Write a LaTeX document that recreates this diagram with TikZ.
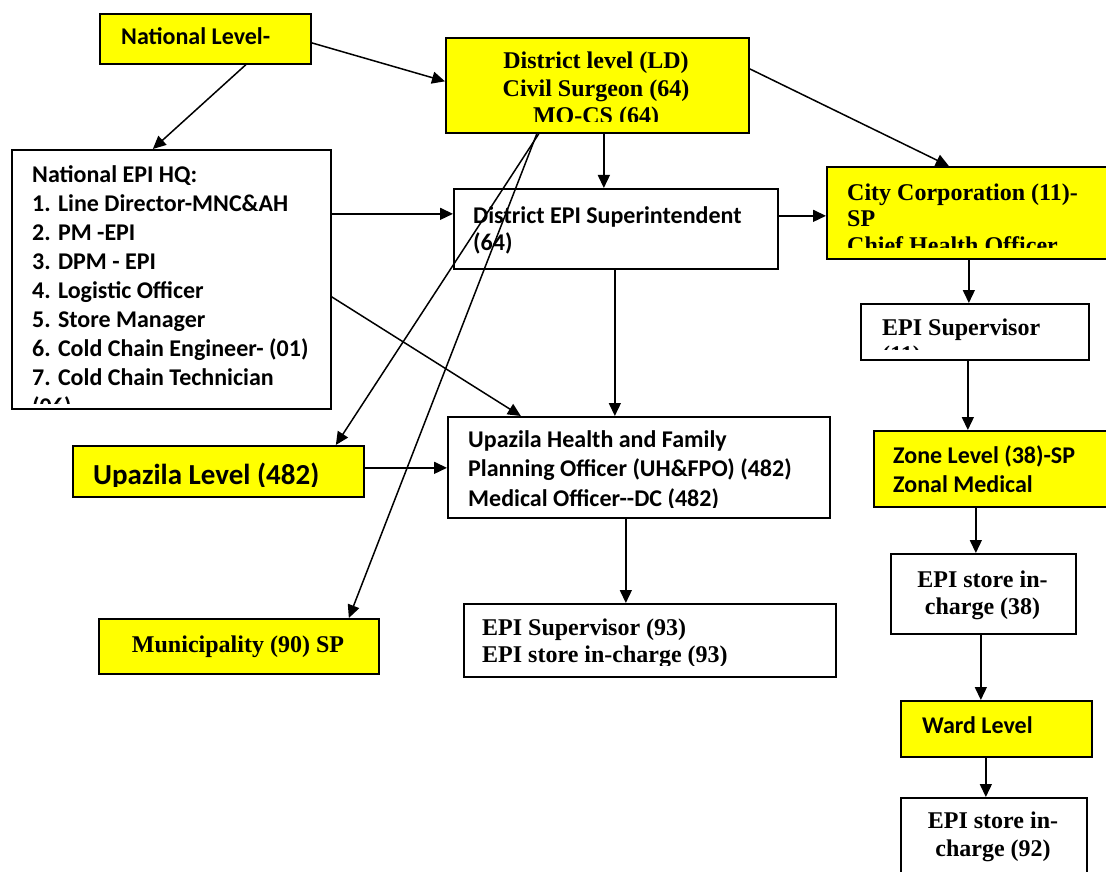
\documentclass[tikz,border=0pt]{standalone}
\usepackage{fontspec}
\setmainfont{Liberation Serif}
\newfontfamily\calfam{Carlito}
\usetikzlibrary{arrows.meta}
\definecolor{boxyellow}{RGB}{255,255,0}
\tikzset{
  bx/.style={draw=black, line width=1.7pt, fill=white, anchor=north west, inner sep=0pt},
  ybx/.style={bx, fill=boxyellow},
  arr/.style={line width=1.5pt, -{Triangle[length=13pt,width=12pt]}},
  ctext/.style={font=\calfam\bfseries\fontsize{24}{#1}\selectfont, inner sep=0pt, anchor=base west, align=left},
  ctext/.default=29.3,
  ttext/.style={font=\bfseries\fontsize{24}{#1}\selectfont, inner sep=0pt, anchor=base, align=center},
  ttext/.default=27,
  tltext/.style={font=\bfseries\fontsize{24}{#1}\selectfont, inner sep=0pt, anchor=base west, align=left},
  tltext/.default=27
}
\begin{document}
\begin{tikzpicture}[x=1pt,y=-1pt]
\useasboundingbox (0,0) rectangle (1106,872);
\clip (0,0) rectangle (1106,872);
\fill[white] (0,0) rectangle (1106,872);

% boxes
\node[ybx, minimum width=211pt, minimum height=50pt] (natl) at (99,13) {};
\node[ybx, minimum width=303pt, minimum height=95pt] (dist) at (445,37) {};
\node[bx, minimum width=319pt, minimum height=259pt] (hq) at (11,149) {};
\node[bx, minimum width=324pt, minimum height=80pt] (desup) at (453,188) {};
\node[ybx, minimum width=300pt, minimum height=92pt] (city) at (826,166) {};
\node[bx, minimum width=228pt, minimum height=56pt] (sup11) at (860,303) {};
\node[bx, minimum width=382pt, minimum height=101pt] (uhfpo) at (447,416) {};
\node[ybx, minimum width=291pt, minimum height=51pt] (upz) at (72,445) {};
\node[ybx, minimum width=250pt, minimum height=76pt] (zone) at (873,430) {};
\node[bx, minimum width=185pt, minimum height=80pt] (st38) at (890,553) {};
\node[bx, minimum width=372pt, minimum height=73pt] (sup93) at (463,603) {};
\node[ybx, minimum width=280pt, minimum height=55pt] (muni) at (98,618) {};
\node[ybx, minimum width=191pt, minimum height=56pt] (ward) at (900,700) {};
\node[bx, minimum width=186pt, minimum height=90pt] (st92) at (900,797) {};

% texts (anchor = baseline of the last line)
\node[ctext] (tnatl) at (121,45) {National Level-};
\begin{scope}
  \clip (445,37) rectangle (748,121.5);
  \node[ttext=27.5] (tdist) at (596,124) {District level (LD)\\Civil Surgeon (64)\\MO-CS (64)};
\end{scope}
\begin{scope}
  \clip (11,149) rectangle (330,403);
  \node[ctext=29] (thq) at (32,414.5) {National EPI HQ:\\1. Line Director-MNC\&AH\\2. PM -EPI\\3. DPM - EPI\\4. Logistic Officer\\5. Store Manager\\6. Cold Chain Engineer- (01)\\7. Cold Chain Technician\\(06)};
\end{scope}
\node[ctext=27.5] (tdesup) at (473,250.5) {District EPI Superintendent\\(64)};
\begin{scope}
  \clip (826,166) rectangle (1106,247);
  \node[tltext=26.5] (tcity) at (847,253) {City Corporation (11)-\\SP\\Chief Health Officer};
\end{scope}
\begin{scope}
  \clip (860,303) rectangle (1088,349);
  \node[tltext=27] (tsup11) at (882,362) {EPI Supervisor\\(11)};
\end{scope}
\begin{scope}
  \clip (447,416) rectangle (829,507);
  \node[ctext=29.5] (tuhfpo) at (468,506) {Upazila Health and Family\\Planning Officer (UH\&FPO) (482)\\Medical Officer--DC (482)};
\end{scope}
\begin{scope}
  \clip (72,445) rectangle (363,486);
  \node[inner sep=0pt, anchor=base west, font=\calfam\bfseries\fontsize{29}{34}\selectfont] (tupz) at (93,484) {Upazila Level (482)};
\end{scope}
\node[ctext=29] (tzone) at (893,492) {Zone Level (38)-SP\\Zonal Medical};
\node[ttext=27] (tst38) at (982.5,614) {EPI store in-\\charge (38)};
\begin{scope}
  \clip (463,603) rectangle (835,665);
  \node[tltext=27] (tsup93) at (482,662) {EPI Supervisor (93)\\EPI store in-charge (93)};
\end{scope}
\node[ttext] (tmuni) at (238,652) {Municipality (90) SP};
\node[ctext] (tward) at (922,733) {Ward Level};
\node[ttext=28] (tst92) at (993,856) {EPI store in-\\charge (92)};

% helper coordinates
\coordinate (a1) at ([xshift=6.5pt]dist.south);
\coordinate (a2) at ([yshift=65.5pt]hq.east);
\coordinate (a3) at ([yshift=13pt]desup.east);
\coordinate (a4) at ([xshift=-1pt]desup.south);
\coordinate (a5) at ([yshift=3.5pt]upz.east);
\coordinate (a6) at ([xshift=-13pt]uhfpo.south);
\coordinate (a7) at ([xshift=-8pt]city.south);
\coordinate (a8) at ([xshift=-7pt]sup11.south);
\coordinate (a9) at ([xshift=-7.5pt]st38.north);
\coordinate (a10) at ([xshift=-2.5pt]st38.south);
\coordinate (a11) at ([xshift=-10.5pt]ward.south);

% connectors
\draw[arr] ([yshift=-4pt]natl.east) -- ([yshift=4pt]dist.west);
\draw[arr] ([xshift=40.5pt]natl.south) -- ([xshift=-18.5pt]hq.north);
\draw[arr] ([yshift=16.5pt]dist.east) -- ([xshift=-28pt]city.north);
\draw[arr] (a1) -- (a1 |- desup.north);
\draw[arr] ([xshift=-58.5pt]dist.south) -- ([xshift=117.5pt]upz.north);
\draw[arr] ([xshift=-60.5pt]dist.south) -- ([xshift=110pt]muni.north);
\draw[arr] (a2) -- (a2 -| desup.west);
\draw[arr] ([yshift=-17.5pt]hq.east) -- ([xshift=-118pt]uhfpo.north);
\draw[arr] (a3) -- (a3 -| city.west);
\draw[arr] (a4) -- (a4 |- uhfpo.north);
\draw[arr] (a5) -- (a5 -| uhfpo.west);
\draw[arr] (a6) -- (a6 |- sup93.north);
\draw[arr] (a7) -- (a7 |- sup11.north);
\draw[arr] (a8) -- (a8 |- zone.north);
\draw[arr] (a9 |- zone.south) -- (a9);
\draw[arr] (a10) -- (a10 |- ward.north);
\draw[arr] (a11) -- (a11 |- st92.north);
\end{tikzpicture}
\end{document}
